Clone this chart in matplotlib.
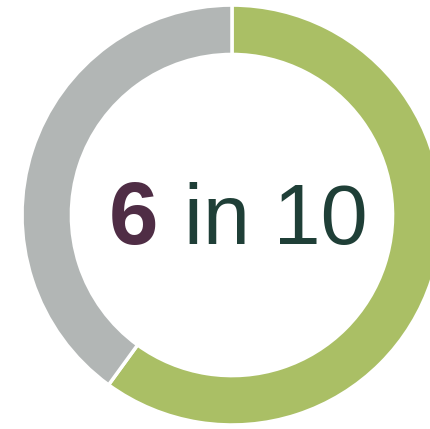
import matplotlib

matplotlib.use("Agg")
import matplotlib.pyplot as plt

labels = ["yes", "no"]
values = [6, 4]
colors = ["#aabf65", "#b2b6b5"]

fig = plt.figure(figsize=(4.31, 4.29), dpi=100)
ax = fig.add_axes([0, 0, 1, 1])
ax.pie(values, colors=colors, startangle=90, counterclock=False, radius=1.0,
       wedgeprops=dict(width=0.235, edgecolor="white", linewidth=2.5))
ax.set_xlim(-1.105, 0.948)
ax.set_ylim(-1.019, 1.024)
ax.set_aspect("equal")
ax.axis("off")

ax.text(-0.585, -0.14, "6", color="#4f2d45", fontsize=64, fontweight="bold",
        family="Liberation Sans", ha="left", va="baseline")
ax.text(-0.23, -0.14, "in 10", color="#1f3f37", fontsize=61,
        family="Liberation Sans", ha="left", va="baseline")

fig.savefig("out.png", dpi=100)
